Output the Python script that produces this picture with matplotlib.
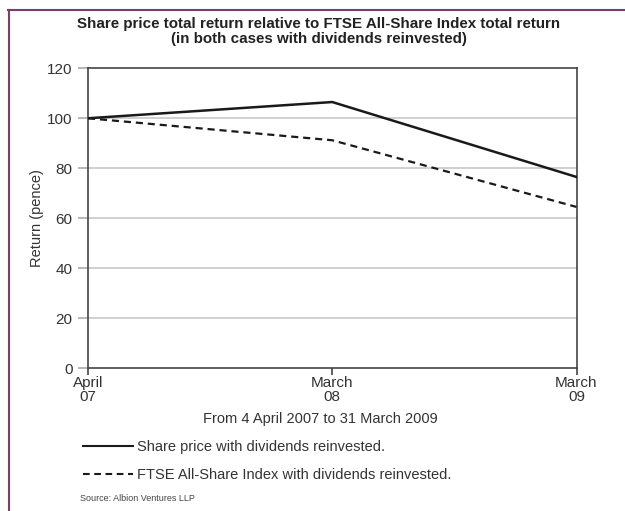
import matplotlib.pyplot as plt
from matplotlib.lines import Line2D

plt.rcParams['font.family'] = ['Liberation Sans', 'DejaVu Sans']

# data
periods = ['April\n07', 'March\n08', 'March\n09']
share_price = [100, 106.5, 76.5]
ftse_all_share = [100, 91.2, 64.5]
y_ticks = [0, 20, 40, 60, 80, 100, 120]

x = list(range(len(periods)))

fig = plt.figure(figsize=(6.25, 5.11), dpi=100)
ax = fig.add_axes([0.1408, 0.2798, 0.7816, 0.5865])

for y in y_ticks[1:-1]:
    ax.axhline(y, color='#c8c8c8', lw=1.2, zorder=1)

l1, = ax.plot(x, share_price, color='#1a1a1a', lw=1.8, zorder=3,
              label='Share price with dividends reinvested.')
l2, = ax.plot(x, ftse_all_share, color='#1a1a1a', lw=1.6, ls=(0, (3.2, 2.2)), zorder=3,
              label='FTSE All-Share Index with dividends reinvested.')

ax.set_xlim(0, 2)
ax.set_ylim(0, 120)
ax.set_xticks(x)
ax.set_xticklabels(periods, linespacing=0.95)
ax.set_yticks(y_ticks)
for s in ax.spines.values():
    s.set_color('#444444')
    s.set_linewidth(1.2)
ax.tick_params(axis='y', length=7, color='#aaaaaa', width=1.2, labelsize=11,
               labelcolor='#333333', pad=4)
ax.tick_params(axis='x', length=5, color='#444444', width=1.2, labelsize=11,
               labelcolor='#333333', pad=1)
ax.set_ylabel('Return (pence)', fontsize=10.5, color='#333333', labelpad=2)

fig.text(0.51, 0.938, 'Share price total return relative to FTSE All-Share Index total return\n'
         '(in both cases with dividends reinvested)',
         ha='center', va='center', fontsize=10.9, fontweight='bold', color='#222222',
         linespacing=1.1)

fig.text(0.512, 0.181, 'From 4 April 2007 to 31 March 2009', ha='center', va='center',
         fontsize=10.5, color='#333333')

fig.legend(handles=[l1, l2], loc='center left', bbox_to_anchor=(0.133, 0.098),
           frameon=False, fontsize=10.5, handlelength=3.4, handletextpad=0.3,
           labelspacing=0.95, borderaxespad=0, borderpad=0, labelcolor='#333333')
for h in fig.legends[0].get_lines():
    h.set_linewidth(1.5)

fig.text(0.128, 0.025, 'Source: Albion Ventures LLP', ha='left', va='center',
         fontsize=6.5, color='#444444')

# purple frame on top and left edges
fig.add_artist(Line2D([0.013, 1.0], [0.980, 0.980], color='#7a3d6e', lw=1.5))
fig.add_artist(Line2D([0.0145, 0.0145], [0.0, 0.980], color='#7a3d6e', lw=1.5))

fig.savefig('out.png', dpi=100)
